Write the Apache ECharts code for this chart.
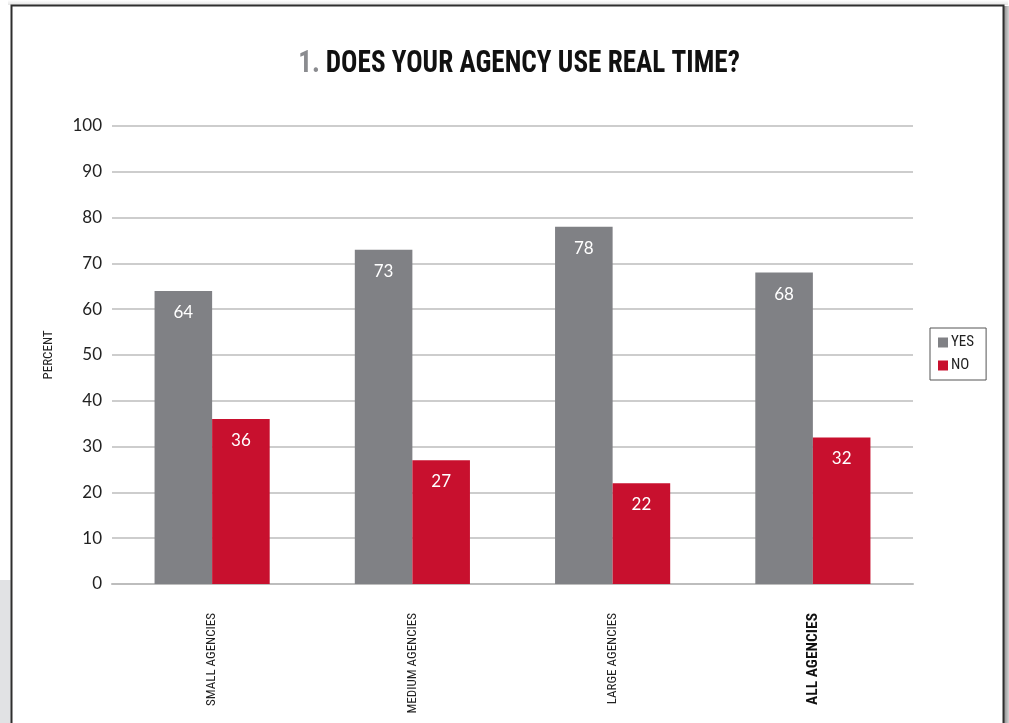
<!DOCTYPE html>
<html>
<head>
<meta charset="utf-8">
<title>Does your agency use real time?</title>
<script src="https://cdn.jsdelivr.net/npm/echarts@6/dist/echarts.min.js"></script>
<style>
  html, body { margin: 0; padding: 0; background: #ffffff; }
  #chart { width: 1009px; height: 723px; }
</style>
</head>
<body>
<div id="chart"></div>
<script>
// Survey answers by agency size (percent)
const categories = ['SMALL AGENCIES', 'MEDIUM AGENCIES', 'LARGE AGENCIES', 'ALL AGENCIES'];
const yesValues = [64, 73, 78, 68];
const noValues = [36, 27, 22, 32];
const seriesNames = ['YES', 'NO'];
const yTicks = { min: 0, max: 100, step: 10 };

const GRAY = '#808185';
const RED = '#c8102e';
const condensed = '"Liberation Sans Narrow", "Roboto Condensed", sans-serif';
const numFont = 'Lato, "Open Sans", sans-serif';

const chart = echarts.init(document.getElementById('chart'), null, { renderer: 'canvas' });

const valueLabel = {
  show: true,
  position: 'insideTop',
  distance: 13,
  color: '#ffffff',
  fontFamily: numFont,
  fontSize: 17,
  fontWeight: 'normal'
};

chart.setOption({
  animation: false,
  backgroundColor: '#ffffff',
  graphic: [
    // page frame with soft shadow
    { type: 'rect', shape: { x: 0, y: 580, width: 11, height: 143 }, style: { fill: '#e1e2e4' }, silent: true },
    { type: 'rect', shape: { x: 1004, y: 6, width: 5, height: 717 },
      style: { fill: new echarts.graphic.LinearGradient(0, 0, 1, 0, [
        { offset: 0, color: '#8e8e8e' }, { offset: 1, color: '#d4d4d4' }]) }, silent: true },
    { type: 'rect', shape: { x: 8, y: 0, width: 1000, height: 5 },
      style: { fill: new echarts.graphic.LinearGradient(0, 0, 0, 1, [
        { offset: 0, color: '#ffffff' }, { offset: 1, color: '#e4e4e4' }]) }, silent: true },
    { type: 'polyline', shape: { points: [[11.5, 723], [11.5, 5.5], [1003.5, 5.5], [1003.5, 723]] },
      style: { stroke: '#2e2e2e', lineWidth: 2, fill: null }, silent: true },
    // title, condensed horizontally
    {
      type: 'text', x: 519, y: 48, scaleX: 0.85,
      style: {
        x: 0, y: 0,
        align: 'center',
        verticalAlign: 'top',
        text: '{n|1.}{t|DOES YOUR AGENCY USE REAL TIME?}',
        rich: {
          n: { fontFamily: condensed, fontWeight: 'bold', fontSize: 32, fill: '#8a8b8f', padding: [0, 7, 0, 0] },
          t: { fontFamily: condensed, fontWeight: 'bold', fontSize: 32, fill: '#111111' }
        }
      }
    }
  ],
  legend: {
    orient: 'vertical',
    left: 930,
    top: 328,
    padding: [7, 12, 7, 8],
    borderColor: '#555555',
    borderWidth: 1,
    itemWidth: 10,
    itemHeight: 10,
    itemGap: 8,
    icon: 'rect',
    data: seriesNames,
    textStyle: { fontFamily: condensed, fontSize: 15, color: '#222222', padding: [0, 0, 0, -2] }
  },
  grid: { left: 112, right: 96, top: 126, bottom: 139 },
  xAxis: {
    type: 'category',
    data: categories,
    axisLine: { show: true, lineStyle: { color: '#bdbdbd', width: 2 } },
    axisTick: { show: false },
    axisLabel: {
      rotate: 90,
      margin: 29,
      fontFamily: condensed,
      fontSize: 13,
      color: '#222222',
      formatter: (v) => v === 'ALL AGENCIES' ? '{b|' + v + '}' : v,
      rich: { b: { fontFamily: condensed, fontSize: 15.5, fontWeight: 'bold', color: '#111111' } }
    }
  },
  yAxis: {
    type: 'value',
    min: yTicks.min,
    max: yTicks.max,
    interval: yTicks.step,
    name: 'PERCENT',
    nameLocation: 'middle',
    nameRotate: 90,
    nameGap: 57,
    nameTextStyle: { fontFamily: condensed, fontSize: 13, color: '#222222' },
    axisLine: { show: false },
    axisTick: { show: false },
    axisLabel: { margin: 10, fontFamily: numFont, fontSize: 17, fontWeight: 'normal', color: '#222222' },
    splitLine: { lineStyle: { color: '#bdbdbd', width: 1.5 } }
  },
  series: [
    {
      name: seriesNames[0], type: 'bar', data: yesValues,
      itemStyle: { color: GRAY },
      barGap: '0%', barCategoryGap: '42.5%',
      label: valueLabel
    },
    {
      name: seriesNames[1], type: 'bar', data: noValues,
      itemStyle: { color: RED },
      label: valueLabel
    }
  ]
});
</script>
</body>
</html>
